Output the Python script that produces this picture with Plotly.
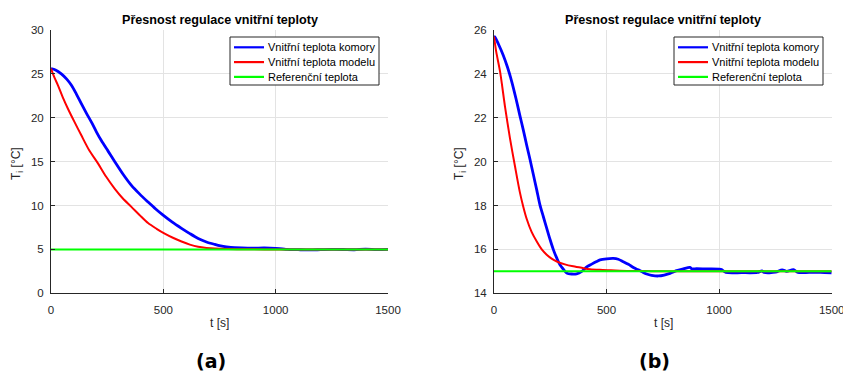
import plotly.graph_objects as go

# ---------------- data ----------------
title_text = "Přesnost regulace vnitřní teploty"
legend_names = ["Vnitřní teplota komory", "Vnitřní teplota modelu", "Referenční teplota"]
x_ticks = [0, 500, 1000, 1500]
y_ticks_a = [0, 5, 10, 15, 20, 25, 30]
y_ticks_b = [14, 16, 18, 20, 22, 24, 26]

# (a) chamber temperature
t_a_chamber = [0, 20, 46, 70, 91, 113, 135, 158, 180, 202, 224, 254, 284, 320, 358, 395, 432, 466,
               499, 540, 581, 618, 655, 692, 729, 755, 781, 800, 850, 900, 950, 1000, 1030, 1050,
               1100, 1150, 1200, 1250, 1300, 1350, 1400, 1450, 1500]
T_a_chamber = [25.6, 25.45, 25.0, 24.4, 23.7, 22.7, 21.6, 20.5, 19.5, 18.4, 17.4, 16.2, 15.0, 13.6,
               12.3, 11.3, 10.4, 9.6, 8.9, 8.1, 7.4, 6.8, 6.25, 5.85, 5.57, 5.4, 5.28, 5.22, 5.17,
               5.15, 5.16, 5.12, 5.07, 5.01, 4.97, 4.94, 4.97, 5.0, 4.99, 4.96, 5.03, 4.97, 5.0]
# (a) model temperature
t_a_model = [0, 15, 31, 53, 76, 105, 135, 170, 209, 245, 284, 320, 358, 395, 432, 470, 506, 545,
             581, 618, 655, 692, 729, 790, 850, 1000, 1500]
T_a_model = [25.6, 24.6, 23.7, 22.3, 21.0, 19.5, 18.0, 16.3, 14.8, 13.3, 11.9, 10.8, 9.85, 8.9,
             8.0, 7.35, 6.8, 6.3, 5.9, 5.55, 5.3, 5.17, 5.1, 5.05, 5.02, 5.0, 5.0]
# (a) reference
t_a_ref = [0, 1500]
T_a_ref = [5, 5]

# (b) chamber temperature
t_b_chamber = [0, 4, 20, 41, 60, 79, 97, 115, 130, 145, 160, 175, 190, 204, 219, 234, 249, 264,
               279, 293, 308, 323, 345, 367, 390, 412, 434, 456, 471, 500, 530, 552, 574, 597,
               619, 634, 649, 663, 678, 700, 730, 756, 782, 797, 811, 841, 870, 878, 900, 950,
               1000, 1011, 1030, 1100, 1170, 1190, 1200, 1250, 1280, 1300, 1330, 1350, 1400,
               1450, 1500]
T_b_chamber = [25.7, 25.68, 25.35, 24.85, 24.3, 23.64, 22.9, 22.1, 21.45, 20.76, 20.1, 19.4, 18.7,
               18.03, 17.5, 16.97, 16.45, 15.98, 15.6, 15.3, 15.1, 14.92, 14.88, 14.89, 15.0,
               15.2, 15.33, 15.45, 15.52, 15.57, 15.59, 15.55, 15.44, 15.32, 15.18, 15.1, 15.03,
               14.95, 14.88, 14.82, 14.79, 14.83, 14.91, 14.97, 15.03, 15.11, 15.18, 15.12, 15.12,
               15.11, 15.1, 15.08, 14.95, 14.94, 14.95, 15.02, 14.95, 14.96, 15.07, 15.0, 15.08,
               14.95, 14.95, 14.95, 14.93]
# (b) model temperature
t_b_model = [0, 10, 27, 49, 71, 93, 115, 130, 145, 167, 190, 212, 234, 256, 279, 315, 352, 390,
             426, 470, 520, 600, 700, 850, 1000, 1500]
T_b_model = [25.7, 25.0, 24.1, 22.5, 21.06, 19.8, 18.6, 17.95, 17.4, 16.8, 16.36, 16.0, 15.76,
             15.58, 15.45, 15.32, 15.23, 15.16, 15.1, 15.07, 15.05, 15.02, 15.01, 15.0, 15.0, 15.0]
# (b) reference
t_b_ref = [0, 1500]
T_b_ref = [15, 15]

# ---------------- figure ----------------
W, H = 843, 374
FONT = "Liberation Sans, Arial, sans-serif"
AX = "#262626"
GRID = "#e3e3e3"
colors = ["#0000ff", "#ff0000", "#00ff00"]
widths = [2.8, 2, 2]
shapes_line = ["spline", "spline", "linear"]

fig = go.Figure()

series_a = [(t_a_chamber, T_a_chamber), (t_a_model, T_a_model), (t_a_ref, T_a_ref)]
series_b = [(t_b_chamber, T_b_chamber), (t_b_model, T_b_model), (t_b_ref, T_b_ref)]

for i, (tx, ty) in enumerate(series_a):
    fig.add_trace(go.Scatter(x=tx, y=ty, mode="lines", name=legend_names[i],
                             line=dict(color=colors[i], width=widths[i], shape=shapes_line[i],
                                       smoothing=0.8),
                             xaxis="x", yaxis="y", showlegend=False))
for i, (tx, ty) in enumerate(series_b):
    fig.add_trace(go.Scatter(x=tx, y=ty, mode="lines", name=legend_names[i],
                             line=dict(color=colors[i], width=widths[i], shape=shapes_line[i],
                                       smoothing=0.8),
                             xaxis="x2", yaxis="y2", showlegend=False))


def px_x(p):
    return p / W


def px_y(p):
    return 1 - p / H


axis_common = dict(showline=True, linecolor=AX, linewidth=1, mirror=False,
                   ticks="inside", ticklen=4, tickcolor=AX, tickwidth=1,
                   showgrid=True, gridcolor=GRID, gridwidth=1, zeroline=False,
                   automargin=False, ticklabeloverflow="allow",
                   tickfont=dict(family=FONT, size=11.5, color=AX))

fig.update_layout(
    template="none",
    width=W, height=H, margin=dict(l=0, r=0, t=0, b=0, pad=0),
    paper_bgcolor="white", plot_bgcolor="white",
    xaxis=dict(domain=[px_x(51), px_x(388)], range=[0, 1500], tickvals=x_ticks,
               anchor="y", ticklabelstandoff=6, **axis_common),
    yaxis=dict(domain=[px_y(293.3), px_y(30)], range=[0, 30], tickvals=y_ticks_a,
               anchor="x", ticklabelstandoff=4, **axis_common),
    xaxis2=dict(domain=[px_x(494), px_x(831.7)], range=[0, 1500], tickvals=x_ticks,
                anchor="y2", ticklabelstandoff=6, **axis_common),
    yaxis2=dict(domain=[px_y(293.3), px_y(30)], range=[14, 26], tickvals=y_ticks_b,
                anchor="x2", ticklabelstandoff=4, **axis_common),
    showlegend=False,
)

annotations = []
shapes = []
panels = [
    dict(cx=219.5, ylx=17, sub="(a)", subx=211, lg_left=230, lg_right=379),
    dict(cx=663, ylx=460, sub="(b)", subx=654, lg_left=674, lg_right=823),
]
for p in panels:
    annotations.append(dict(x=px_x(p["cx"]), y=px_y(20), xref="paper", yref="paper",
                            text="<b>" + title_text + "</b>", showarrow=False,
                            xanchor="center", yanchor="middle",
                            font=dict(family=FONT, size=12.6, color="#000000")))
    annotations.append(dict(x=px_x(p["cx"]), y=px_y(323), xref="paper", yref="paper",
                            text="t [s]", showarrow=False, xanchor="center", yanchor="middle",
                            font=dict(family=FONT, size=12, color=AX)))
    annotations.append(dict(x=px_x(p["ylx"]), y=px_y(164), xref="paper", yref="paper",
                            text="T<sub>i</sub> [°C]", showarrow=False, textangle=-90,
                            xanchor="center", yanchor="middle",
                            font=dict(family=FONT, size=12, color=AX)))
    annotations.append(dict(x=px_x(p["subx"]), y=px_y(361), xref="paper", yref="paper",
                            text="<b>" + p["sub"] + "</b>", showarrow=False,
                            xanchor="center", yanchor="middle",
                            font=dict(family="DejaVu Sans", size=19, color="#000000")))
    # legend box
    shapes.append(dict(type="rect", xref="paper", yref="paper",
                       x0=px_x(p["lg_left"]), x1=px_x(p["lg_right"]),
                       y0=px_y(85), y1=px_y(37),
                       fillcolor="white", line=dict(color=AX, width=1), layer="above"))
    for i, name in enumerate(legend_names):
        yy = 47.3 + i * 14.8
        shapes.append(dict(type="line", xref="paper", yref="paper",
                           x0=px_x(p["lg_left"] + 4), x1=px_x(p["lg_left"] + 34),
                           y0=px_y(yy), y1=px_y(yy),
                           line=dict(color=colors[i], width=2.2), layer="above"))
        annotations.append(dict(x=px_x(p["lg_left"] + 36), y=px_y(yy), xref="paper", yref="paper",
                                text=name, showarrow=False, xanchor="left", yanchor="middle",
                                font=dict(family=FONT, size=11, color="#000000")))

fig.update_layout(annotations=annotations, shapes=shapes)

fig.write_html("out.html")
